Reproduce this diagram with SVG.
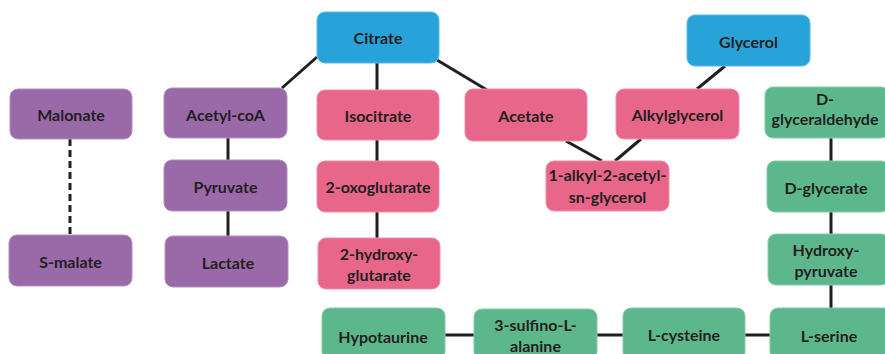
<svg xmlns="http://www.w3.org/2000/svg" width="885" height="354" viewBox="0 0 885 354">
<style>
.n rect{stroke-width:1}
.blue rect{fill:#27a3da;stroke:#5bbbe5}
.purple rect{fill:#9a6aa8;stroke:#b391be}
.pink rect{fill:#e9668b;stroke:#f08fab}
.green rect{fill:#5db78d;stroke:#86caa9}
.n text{font-family:Lato,"Liberation Sans",sans-serif;font-weight:bold;font-size:16px;fill:#231f20;text-anchor:middle;dominant-baseline:central}
.c line{stroke:#231f20;stroke-width:3}
.c .d{stroke-dasharray:7,4}
</style>
<rect width="885" height="354" fill="#ffffff"/>
<g id="connectors" class="c">
<line x1="317" y1="57" x2="282" y2="88"/>
<line x1="377" y1="62" x2="377" y2="90"/>
<line x1="437" y1="60" x2="487" y2="90"/>
<line x1="725" y1="66" x2="697" y2="89"/>
<line x1="566" y1="141" x2="602" y2="161"/>
<line x1="641" y1="139" x2="615" y2="161"/>
<line class="d" x1="70" y1="139" x2="70" y2="235"/>
<line x1="228" y1="138" x2="228" y2="160"/>
<line x1="228" y1="211" x2="228" y2="236"/>
<line x1="377" y1="140" x2="377" y2="161"/>
<line x1="377" y1="212" x2="377" y2="238"/>
<line x1="831" y1="138" x2="831" y2="161"/>
<line x1="831" y1="212" x2="831" y2="234"/>
<line x1="831" y1="285" x2="831" y2="308"/>
<line x1="445" y1="335" x2="474" y2="335"/>
<line x1="597" y1="335" x2="623" y2="335"/>
<line x1="745" y1="335" x2="770" y2="335"/>
</g>
<g id="citrate" class="n blue"><rect x="317" y="12" width="122" height="51" rx="8"/><text x="378" y="37.5">Citrate</text></g>
<g id="glycerol" class="n blue"><rect x="687" y="15" width="123" height="51" rx="8"/><text x="748.5" y="41">Glycerol</text></g>
<g id="malonate" class="n purple"><rect x="10" y="89" width="122" height="50" rx="8"/><text x="71" y="114">Malonate</text></g>
<g id="acetylcoa" class="n purple"><rect x="164" y="88" width="123" height="50" rx="8"/><text x="225.5" y="114">Acetyl-coA</text></g>
<g id="pyruvate" class="n purple"><rect x="164" y="160" width="123" height="51" rx="8"/><text x="225.5" y="186">Pyruvate</text></g>
<g id="lactate" class="n purple"><rect x="165" y="236" width="123" height="51" rx="8"/><text x="228" y="262.5">Lactate</text></g>
<g id="smalate" class="n purple"><rect x="9" y="235" width="123" height="51" rx="8"/><text x="70.5" y="261">S-malate</text></g>
<g id="isocitrate" class="n pink"><rect x="317" y="90" width="122" height="50" rx="8"/><text x="378" y="115">Isocitrate</text></g>
<g id="oxoglutarate" class="n pink"><rect x="317" y="161" width="122" height="51" rx="8"/><text x="378" y="186.5">2-oxoglutarate</text></g>
<g id="hydroxyglutarate" class="n pink"><rect x="318" y="238" width="122" height="51" rx="8"/><text x="379" y="253">2-hydroxy-</text><text x="379" y="274">glutarate</text></g>
<g id="acetate" class="n pink"><rect x="465" y="89" width="122" height="52" rx="8"/><text x="526" y="115">Acetate</text></g>
<g id="alkylglycerol" class="n pink"><rect x="616" y="89" width="123" height="50" rx="8"/><text x="677.5" y="114.5">Alkylglycerol</text></g>
<g id="alkylacetylglycerol" class="n pink"><rect x="546" y="161" width="123" height="50" rx="8"/><text x="607.5" y="174">1-alkyl-2-acetyl-</text><text x="607.5" y="196">sn-glycerol</text></g>
<g id="dglyceraldehyde" class="n green"><rect x="765" y="87" width="124" height="51" rx="8"/><text x="825" y="98">D-</text><text x="825" y="118">glyceraldehyde</text></g>
<g id="dglycerate" class="n green"><rect x="767" y="161" width="122" height="51" rx="8"/><text x="826" y="187">D-glycerate</text></g>
<g id="hydroxypyruvate" class="n green"><rect x="768" y="234" width="121" height="51" rx="8"/><text x="826" y="249">Hydroxy-</text><text x="826" y="270">pyruvate</text></g>
<g id="lserine" class="n green"><rect x="770" y="308" width="122" height="52" rx="8"/><text x="829" y="335">L-serine</text></g>
<g id="lcysteine" class="n green"><rect x="623" y="308" width="122" height="52" rx="8"/><text x="684" y="334">L-cysteine</text></g>
<g id="sulfinoalanine" class="n green"><rect x="474" y="309" width="123" height="51" rx="8"/><text x="535.5" y="324">3-sulfino-L-</text><text x="535.5" y="345">alanine</text></g>
<g id="hypotaurine" class="n green"><rect x="322" y="308" width="123" height="52" rx="8"/><text x="383" y="336">Hypotaurine</text></g>
</svg>
